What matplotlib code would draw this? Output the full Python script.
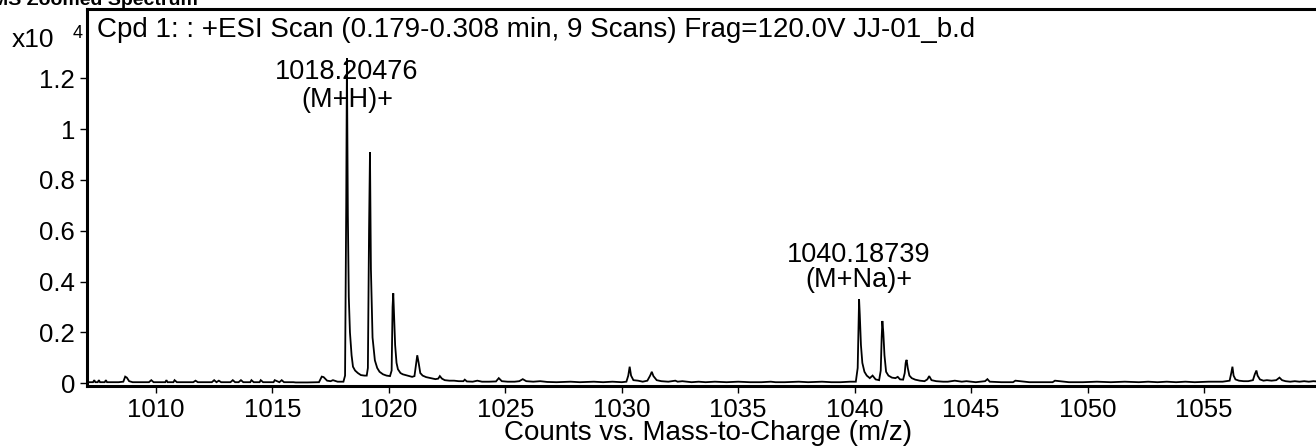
import matplotlib
matplotlib.use("Agg")
import matplotlib.pyplot as plt
from matplotlib.ticker import FixedLocator, FixedFormatter

plt.rcParams['font.family'] = ['Liberation Sans', 'DejaVu Sans']

# Profile spectrum (m/z, counts x10^4)
mz = [1007.04, 1007.30, 1007.35, 1007.40, 1007.50, 1007.55, 1007.60, 1007.80, 1007.85, 1007.90,
      1008.40, 1008.60, 1008.68, 1008.75, 1008.85, 1009.00, 1009.70, 1009.80, 1009.90,
      1010.40, 1010.45, 1010.50, 1010.75, 1010.80, 1010.90, 1011.60, 1011.70, 1011.80,
      1012.40, 1012.50, 1012.60, 1012.70, 1012.80, 1013.20, 1013.30, 1013.40, 1013.55, 1013.65,
      1013.75, 1014.05, 1014.10, 1014.20, 1014.45, 1014.50, 1014.60, 1015.05, 1015.10, 1015.30,
      1015.40, 1015.50, 1015.90, 1016.00, 1016.50, 1017.00, 1017.12, 1017.20, 1017.35, 1017.50,
      1017.60, 1017.80, 1018.05, 1018.12, 1018.17, 1018.20, 1018.24, 1018.28, 1018.33, 1018.40,
      1018.46, 1018.55, 1018.67, 1018.80, 1018.95, 1019.05, 1019.10, 1019.15, 1019.19, 1019.23,
      1019.30, 1019.40, 1019.50, 1019.60, 1019.75, 1019.90, 1020.05, 1020.12, 1020.16, 1020.19,
      1020.22, 1020.27, 1020.33, 1020.39, 1020.50, 1020.60, 1020.80, 1021.00, 1021.10, 1021.16,
      1021.22, 1021.28, 1021.35, 1021.45, 1021.60, 1021.80, 1022.00, 1022.12, 1022.19, 1022.28,
      1022.40, 1022.60, 1022.80, 1023.00, 1023.20, 1023.26, 1023.35, 1023.60, 1023.80, 1024.00,
      1024.30, 1024.60, 1024.72, 1024.85, 1025.10, 1025.40, 1025.60, 1025.75, 1025.90, 1026.20,
      1026.50, 1026.80, 1027.20, 1027.80, 1028.20, 1028.80, 1029.20, 1029.60, 1030.00, 1030.20,
      1030.28, 1030.34, 1030.40, 1030.50, 1030.70, 1030.90, 1031.10, 1031.22, 1031.29, 1031.36,
      1031.50, 1031.70, 1032.00, 1032.30, 1032.40, 1032.60, 1033.00, 1033.30, 1033.60, 1034.00,
      1034.50, 1035.00, 1035.50, 1036.00, 1036.40, 1036.60, 1037.00, 1037.60, 1038.00, 1038.60,
      1039.00, 1039.40, 1039.80, 1040.05, 1040.13, 1040.17, 1040.19, 1040.22, 1040.27, 1040.33,
      1040.42, 1040.52, 1040.65, 1040.77, 1040.90, 1041.05, 1041.12, 1041.16, 1041.19, 1041.23,
      1041.28, 1041.35, 1041.45, 1041.60, 1041.75, 1041.85, 1041.95, 1042.08, 1042.15, 1042.19,
      1042.23, 1042.28, 1042.35, 1042.45, 1042.60, 1042.80, 1043.00, 1043.12, 1043.20, 1043.30,
      1043.50, 1043.80, 1044.00, 1044.30, 1044.60, 1044.80, 1045.20, 1045.60, 1045.70, 1045.80,
      1046.30, 1046.80, 1046.90, 1047.50, 1048.00, 1048.50, 1048.60, 1049.20, 1049.80, 1050.40,
      1051.00, 1051.60, 1052.20, 1052.60, 1053.00, 1053.40, 1053.80, 1054.20, 1054.60, 1055.20,
      1055.80, 1056.10, 1056.17, 1056.22, 1056.27, 1056.35, 1056.50, 1056.70, 1056.90, 1057.10,
      1057.18, 1057.25, 1057.30, 1057.40, 1057.55, 1057.70, 1057.90, 1058.10, 1058.24, 1058.35,
      1058.50, 1058.70, 1058.90, 1059.10, 1059.30, 1059.50, 1059.70, 1059.98]
counts = [0.004, 0.004, 0.012, 0.004, 0.004, 0.012, 0.004, 0.004, 0.012, 0.004,
          0.004, 0.006, 0.026, 0.022, 0.008, 0.004, 0.004, 0.012, 0.004,
          0.004, 0.012, 0.004, 0.004, 0.012, 0.004, 0.004, 0.010, 0.004,
          0.004, 0.012, 0.004, 0.010, 0.004, 0.004, 0.012, 0.004, 0.004, 0.012,
          0.004, 0.004, 0.012, 0.004, 0.004, 0.012, 0.004, 0.004, 0.012, 0.004,
          0.012, 0.004, 0.004, 0.003, 0.003, 0.004, 0.026, 0.024, 0.010, 0.008,
          0.012, 0.006, 0.006, 0.030, 0.700, 1.280, 0.660, 0.340, 0.200, 0.110,
          0.065, 0.050, 0.040, 0.032, 0.030, 0.030, 0.060, 0.600, 0.910, 0.450,
          0.180, 0.090, 0.060, 0.045, 0.035, 0.030, 0.028, 0.050, 0.300, 0.354,
          0.280, 0.150, 0.080, 0.055, 0.040, 0.035, 0.030, 0.025, 0.028, 0.070,
          0.110, 0.080, 0.040, 0.030, 0.024, 0.020, 0.016, 0.018, 0.028, 0.018,
          0.012, 0.010, 0.010, 0.008, 0.008, 0.014, 0.007, 0.006, 0.010, 0.006,
          0.006, 0.007, 0.020, 0.008, 0.006, 0.006, 0.008, 0.016, 0.008, 0.006,
          0.008, 0.005, 0.004, 0.006, 0.004, 0.006, 0.004, 0.006, 0.004, 0.006,
          0.030, 0.065, 0.030, 0.012, 0.010, 0.006, 0.010, 0.030, 0.045, 0.028,
          0.012, 0.008, 0.006, 0.010, 0.006, 0.008, 0.004, 0.006, 0.004, 0.006,
          0.004, 0.006, 0.004, 0.004, 0.006, 0.004, 0.004, 0.006, 0.004, 0.006,
          0.004, 0.004, 0.006, 0.006, 0.060, 0.250, 0.330, 0.270, 0.150, 0.080,
          0.045, 0.030, 0.020, 0.030, 0.015, 0.012, 0.050, 0.180, 0.245, 0.200,
          0.110, 0.045, 0.030, 0.022, 0.020, 0.025, 0.015, 0.014, 0.040, 0.080,
          0.092, 0.060, 0.030, 0.020, 0.014, 0.010, 0.008, 0.015, 0.028, 0.012,
          0.008, 0.006, 0.006, 0.010, 0.006, 0.008, 0.004, 0.008, 0.016, 0.006,
          0.004, 0.004, 0.010, 0.004, 0.004, 0.004, 0.010, 0.004, 0.004, 0.006,
          0.004, 0.006, 0.004, 0.006, 0.004, 0.006, 0.004, 0.006, 0.004, 0.006,
          0.006, 0.010, 0.040, 0.065, 0.030, 0.015, 0.010, 0.008, 0.008, 0.012,
          0.035, 0.050, 0.030, 0.015, 0.010, 0.012, 0.010, 0.012, 0.022, 0.012,
          0.008, 0.006, 0.008, 0.006, 0.008, 0.006, 0.008, 0.006]

x_ticks = [1010, 1015, 1020, 1025, 1030, 1035, 1040, 1045, 1050, 1055]
y_ticks = [0, 0.2, 0.4, 0.6, 0.8, 1.0, 1.2]
y_tick_labels = ["0", "0.2", "0.4", "0.6", "0.8", "1", "1.2"]

peak_mz = [1018.20476, 1040.18739]
peak_mass_labels = ["1018.20476", "1040.18739"]
peak_ion_labels = ["(M+H)+", "(M+Na)+"]

title = "Cpd 1: : +ESI Scan (0.179-0.308 min, 9 Scans) Frag=120.0V JJ-01_b.d"
xlabel = "Counts vs. Mass-to-Charge (m/z)"

W, H = 1316, 447
fig = plt.figure(figsize=(W / 100, H / 100), dpi=100)
ax_l, ax_r, ax_t, ax_b = 87, 1320, 9, 385.5
ax = fig.add_axes([ax_l / W, 1 - ax_b / H, (ax_r - ax_l) / W, (ax_b - ax_t) / H])

ax.plot(mz, counts, color='black', lw=1.3, solid_joinstyle='miter')
ax.set_xlim(1007.04, 1059.98)
ax.set_ylim(-0.009, 1.473)

ax.xaxis.set_major_locator(FixedLocator(x_ticks))
ax.yaxis.set_major_locator(FixedLocator(y_ticks))
ax.yaxis.set_major_formatter(FixedFormatter(y_tick_labels))
ax.tick_params(axis='both', direction='out', length=5, width=1.0, labelsize=18.5, color='black')
ax.tick_params(axis='y', pad=3.5)
ax.tick_params(axis='x', pad=4)
for s in ['left', 'bottom', 'top']:
    ax.spines[s].set_linewidth(2.2)
ax.spines['right'].set_visible(False)

fig.text(97 / W, 1 - 30 / H, title, fontsize=20, va='center', ha='left')

label_rows = [(72, 100), (255, 280)]
for x, lab1, lab2, (y1, y2) in zip(peak_mz, peak_mass_labels, peak_ion_labels, label_rows):
    xf = ax.transData.transform((x, 0))[0] / W
    fig.text(xf, 1 - y1 / H, lab1, fontsize=19.5, ha='center', va='center')
    fig.text(xf, 1 - y2 / H, lab2, fontsize=19.5, ha='center', va='center')

fig.text(12 / W, 1 - 40 / H, "x10", fontsize=19, ha='left', va='center')
fig.text(73 / W, 1 - 34 / H, "4", fontsize=13, ha='left', va='center')

fig.text(708 / W, 1 - 433 / H, xlabel, fontsize=20, ha='center', va='center')
fig.text(198 / W, 1 - 5 / H, "MS Zoomed Spectrum", fontsize=14, fontweight='bold',
         ha='right', va='baseline')

fig.savefig("out.png", dpi=100)
